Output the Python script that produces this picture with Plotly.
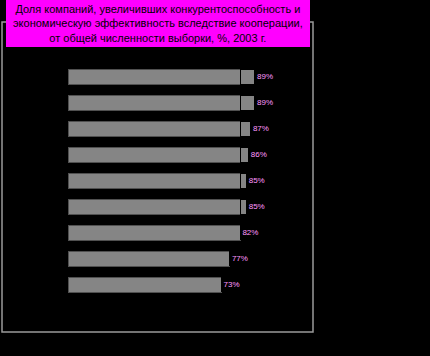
import plotly.graph_objects as go

# Data
categories = ["1", "2", "3", "4", "5", "6", "7", "8", "9"]
values = [89, 89, 87, 86, 85, 85, 82, 77, 73]
labels = ["89%", "89%", "87%", "86%", "85%", "85%", "82%", "77%", "73%"]
base_level = 82
title_lines = [
    "Доля компаний, увеличивших конкурентоспособность и",
    "экономическую эффективность вследствие кооперации,",
    "от общей численности выборки, %, 2003 г.",
]

base_vals = [min(v, base_level) for v in values]
extra_vals = [v - b for v, b in zip(values, base_vals)]

fig = go.Figure()
fig.add_trace(go.Bar(
    y=categories, x=base_vals, orientation="h", width=0.58,
    marker=dict(color="#858585", line=dict(color="#505050", width=1)),
    hoverinfo="skip", showlegend=False,
))
fig.add_trace(go.Bar(
    y=categories, x=extra_vals, orientation="h", width=0.58,
    marker=dict(color="#858585", line=dict(color="#000000", width=1)),
    hoverinfo="skip", showlegend=False,
))
fig.add_trace(go.Scatter(
    y=categories, x=values, mode="text", text=labels,
    texttemplate=" %{text}",
    textposition="middle right",
    textfont=dict(family="Liberation Sans, Arial", size=8, color="#ff99ff"),
    hoverinfo="skip", showlegend=False,
))

fig.update_layout(
    width=430, height=356,
    margin=dict(l=2, r=117, t=22, b=24),
    paper_bgcolor="#000000", plot_bgcolor="#000000",
    barmode="stack", bargap=0,
    xaxis=dict(range=[-31.43, 116.67], visible=False, fixedrange=True),
    yaxis=dict(type="category", range=[9.83, -2.12], visible=False, fixedrange=True),
    shapes=[
        dict(type="rect", xref="paper", yref="paper", x0=0, x1=1, y0=0, y1=1,
             line=dict(color="#9a9a9a", width=1.5), fillcolor="rgba(0,0,0,0)", layer="below"),
        dict(type="rect", xref="paper", yref="paper", x0=(6 - 2) / 311, x1=(310 - 2) / 311,
             y0=(332 - 47) / 310, y1=(332 - 0) / 310 + 0.01,
             line=dict(width=0), fillcolor="#ff00ff", layer="above"),
    ],
    annotations=[
        dict(xref="paper", yref="paper", x=(158 - 2) / 311, y=(332 - 23.5) / 310,
             text="<br>".join(title_lines), showarrow=False, align="center",
             xanchor="center", yanchor="middle",
             font=dict(family="Liberation Sans, Arial", size=11, color="#000000")),
    ],
)

fig.write_html(
    "out.html",
    config={"displayModeBar": False, "staticPlot": True},
    post_script="document.body.style.margin='0';document.body.style.background='#000';",
)
